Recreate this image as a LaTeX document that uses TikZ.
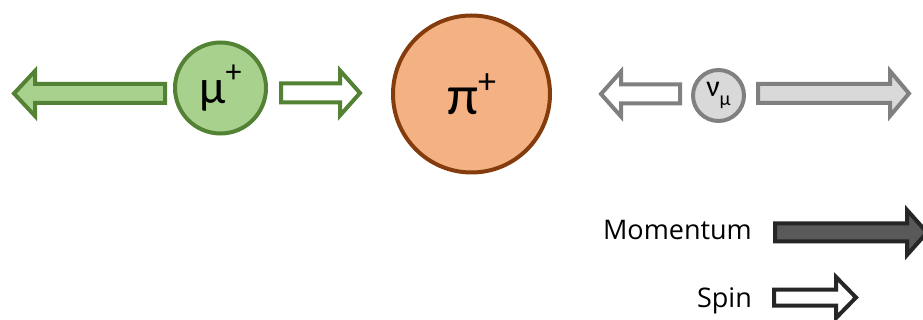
\documentclass[tikz,border=0pt]{standalone}
\usepackage{fontspec}
\setmainfont{Open Sans}
\newfontfamily\grk{Carlito}
\definecolor{mufill}{HTML}{A9D18E}
\definecolor{mudraw}{HTML}{548235}
\definecolor{pifill}{HTML}{F4B183}
\definecolor{pidraw}{HTML}{843C0C}
\definecolor{nufill}{HTML}{D9D9D9}
\definecolor{nudraw}{HTML}{808080}
\definecolor{pfill}{HTML}{595959}
\definecolor{pdraw}{HTML}{262626}
\newcommand\blockarr[8]{% style, tail, base, tip, yc, hs, hh
  \draw[#1] (#2,#5-#6) -- (#3,#5-#6) -- (#3,#5-#7) -- (#4,#5) -- (#3,#5+#7) -- (#3,#5+#6) -- (#2,#5+#6) -- cycle;}
\begin{document}
\begin{tikzpicture}[x=1pt,y=-1pt,
  arr/.style={line width=4pt,line join=miter,miter limit=10},
  particle/.style={circle,line width=4pt,inner sep=0pt,text=black}]
\useasboundingbox (0,0) rectangle (923,320);
% muon
\blockarr{arr,draw=mudraw,fill=mufill}{165}{35}{14}{93.5}{9.5}{22.5}{}
\blockarr{arr,draw=mudraw,fill=white}{281}{340}{360}{93}{9.5}{22.5}{}
\node[particle,draw=mudraw,fill=mufill,minimum size=91pt] (mu) at (220.5,88)
  {\grk\fontsize{48}{48}\selectfont μ\raisebox{0.42em}{\fontsize{32}{32}\selectfont +}};
% pion
\node[particle,draw=pidraw,fill=pifill,minimum size=157pt] (pi) at (471.5,94)
  {\grk\fontsize{56}{56}\selectfont π\raisebox{0.38em}{\fontsize{36}{36}\selectfont +}};
% neutrino
\blockarr{arr,draw=nudraw,fill=white}{680}{621}{601}{94}{9.5}{22.5}{}
\blockarr{arr,draw=nudraw,fill=nufill}{758}{890}{909}{93.5}{9.5}{22.5}{}
\node[particle,draw=nudraw,fill=nufill,minimum size=51pt] (nu) at (718.5,95.5)
  {\grk\fontsize{30}{30}\selectfont ν\raisebox{-0.3em}{\fontsize{20}{20}\selectfont μ}};
% legend
\blockarr{arr,draw=pdraw,fill=pfill}{775}{907}{927}{232.5}{9}{22.5}{}
\blockarr{arr,draw=pdraw,fill=white}{774}{836}{856}{297.5}{8}{20.5}{}
\node[anchor=base east,inner sep=0pt,font=\fontsize{27}{27}\selectfont] (mom) at (752,240) {Momentum};
\node[anchor=base east,inner sep=0pt,font=\fontsize{27}{27}\selectfont] (spin) at (752,307) {Spin};
\end{tikzpicture}
\end{document}
